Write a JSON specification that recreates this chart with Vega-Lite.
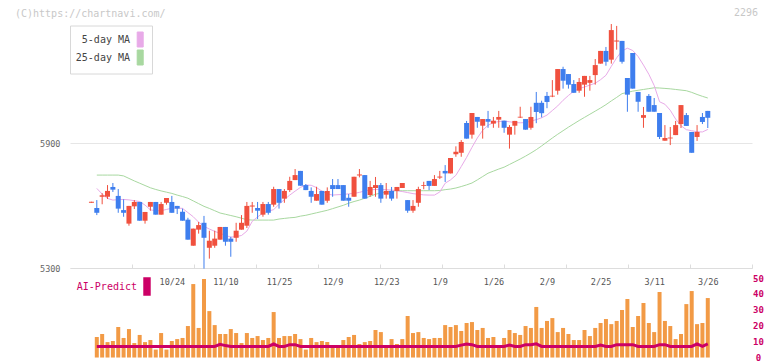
{
  "$schema": "https://vega.github.io/schema/vega-lite/v6.json",
  "width": 682,
  "height": 353,
  "autosize": "none",
  "padding": {"left": 70, "right": 20, "top": 5, "bottom": 3},
  "background": "white",
  "config": {"view": {"stroke": null}, "font": "DejaVu Sans Mono"},
  "title": {"text": "(C)https://chartnavi.com/", "anchor": "start", "frame": "bounds", "dx": 15, "offset": -13.5, "fontSize": 10, "font": "DejaVu Sans Mono", "fontWeight": "normal", "color": "#c8c8c8"},
  "data": {"values": [
    {"i":0,"o":5613,"h":5618,"l":5613,"c":5618},
    {"i":1,"o":5588,"h":5626,"l":5554,"c":5565,"v":12.9,"ai":7,"m5":5682,"m25":5746},
    {"i":2,"o":5642,"h":5659,"l":5606,"c":5649,"v":14.8,"ai":7,"m5":5655,"m25":5746},
    {"i":3,"o":5642,"h":5698,"l":5631,"c":5670,"v":9.7,"ai":7,"m5":5634,"m25":5746},
    {"i":4,"o":5689,"h":5708,"l":5665,"c":5676,"v":10.4,"ai":7,"m5":5626,"m25":5746},
    {"i":5,"o":5646,"h":5679,"l":5565,"c":5585,"v":19.2,"ai":7,"m5":5628,"m25":5746},
    {"i":6,"o":5578,"h":5630,"l":5546,"c":5565,"v":12.3,"ai":7,"m5":5629,"m25":5742},
    {"i":7,"o":5513,"h":5598,"l":5503,"c":5598,"v":17.9,"ai":7,"m5":5627,"m25":5730},
    {"i":8,"o":5596,"h":5626,"l":5583,"c":5617,"v":9.1,"ai":7,"m5":5623,"m25":5718},
    {"i":9,"o":5617,"h":5617,"l":5527,"c":5527,"v":14.2,"ai":7,"m5":5619,"m25":5707},
    {"i":10,"o":5527,"h":5569,"l":5513,"c":5569,"v":9.7,"ai":7,"m5":5602,"m25":5696},
    {"i":11,"o":5594,"h":5617,"l":5575,"c":5617,"v":11,"ai":7,"m5":5579,"m25":5685},
    {"i":12,"o":5617,"h":5617,"l":5556,"c":5556,"v":5,"ai":7,"m5":5575,"m25":5677},
    {"i":13,"o":5556,"h":5617,"l":5556,"c":5607,"v":15.4,"ai":7,"m5":5575,"m25":5670},
    {"i":14,"o":5613,"h":5636,"l":5604,"c":5636,"v":5,"ai":7,"m5":5581,"m25":5664},
    {"i":15,"o":5617,"h":5646,"l":5565,"c":5565,"v":10.4,"ai":7,"m5":5587,"m25":5658},
    {"i":16,"o":5598,"h":5598,"l":5559,"c":5585,"v":11.6,"ai":7,"m5":5588,"m25":5650},
    {"i":17,"o":5570,"h":5585,"l":5527,"c":5527,"v":12.3,"ai":7,"m5":5586,"m25":5643},
    {"i":18,"o":5532,"h":5541,"l":5436,"c":5436,"v":19.8,"ai":7,"m5":5566,"m25":5635},
    {"i":19,"o":5407,"h":5489,"l":5407,"c":5489,"v":46.2,"ai":7,"m5":5546,"m25":5622},
    {"i":20,"o":5484,"h":5521,"l":5465,"c":5506,"v":18.6,"ai":7,"m5":5520,"m25":5609},
    {"i":21,"o":5517,"h":5550,"l":5297,"c":5445,"v":49.4,"ai":7,"m5":5500,"m25":5596},
    {"i":22,"o":5397,"h":5479,"l":5345,"c":5431,"v":29.2,"ai":7,"m5":5487,"m25":5586},
    {"i":23,"o":5407,"h":5479,"l":5397,"c":5441,"v":20.4,"ai":7,"m5":5476,"m25":5575},
    {"i":24,"o":5436,"h":5497,"l":5436,"c":5497,"v":14.8,"ai":8.3,"m5":5466,"m25":5564},
    {"i":25,"o":5497,"h":5497,"l":5407,"c":5426,"v":14.8,"ai":7.5,"m5":5457,"m25":5558},
    {"i":26,"o":5441,"h":5450,"l":5354,"c":5426,"v":17.9,"ai":7,"m5":5448,"m25":5552},
    {"i":27,"o":5445,"h":5517,"l":5426,"c":5479,"v":15.4,"ai":7,"m5":5451,"m25":5546},
    {"i":28,"o":5484,"h":5554,"l":5484,"c":5517,"v":9.1,"ai":7,"m5":5456,"m25":5539},
    {"i":29,"o":5503,"h":5617,"l":5492,"c":5598,"v":15.4,"ai":7,"m5":5477,"m25":5532},
    {"i":30,"o":5595,"h":5617,"l":5565,"c":5600,"v":12.3,"ai":7,"m5":5524,"m25":5530},
    {"i":31,"o":5588,"h":5617,"l":5535,"c":5575,"v":13.5,"ai":7,"m5":5545,"m25":5530},
    {"i":32,"o":5556,"h":5617,"l":5546,"c":5607,"v":11,"ai":7,"m5":5564,"m25":5530},
    {"i":33,"o":5607,"h":5617,"l":5556,"c":5565,"v":12.3,"ai":7,"m5":5573,"m25":5530},
    {"i":34,"o":5604,"h":5690,"l":5594,"c":5679,"v":28.6,"ai":8.5,"m5":5580,"m25":5530},
    {"i":35,"o":5679,"h":5679,"l":5585,"c":5613,"v":12.3,"ai":7,"m5":5606,"m25":5535},
    {"i":36,"o":5633,"h":5679,"l":5613,"c":5670,"v":13.5,"ai":7,"m5":5628,"m25":5538},
    {"i":37,"o":5674,"h":5738,"l":5665,"c":5718,"v":13.5,"ai":8.1,"m5":5650,"m25":5541},
    {"i":38,"o":5722,"h":5775,"l":5722,"c":5746,"v":14.8,"ai":8.1,"m5":5669,"m25":5543},
    {"i":39,"o":5766,"h":5766,"l":5695,"c":5695,"v":11.6,"ai":7,"m5":5687,"m25":5549},
    {"i":40,"o":5698,"h":5703,"l":5674,"c":5674,"v":5,"ai":7,"m5":5698,"m25":5553},
    {"i":41,"o":5670,"h":5687,"l":5613,"c":5642,"v":12.3,"ai":7,"m5":5697,"m25":5559},
    {"i":42,"o":5623,"h":5690,"l":5623,"c":5655,"v":9.7,"ai":7,"m5":5686,"m25":5565},
    {"i":43,"o":5670,"h":5670,"l":5604,"c":5604,"v":10.4,"ai":7,"m5":5669,"m25":5571},
    {"i":44,"o":5623,"h":5687,"l":5613,"c":5670,"v":9.7,"ai":7,"m5":5656,"m25":5577},
    {"i":45,"o":5698,"h":5727,"l":5642,"c":5679,"v":6,"ai":7,"m5":5650,"m25":5585},
    {"i":46,"o":5698,"h":5727,"l":5679,"c":5679,"v":6,"ai":7,"m5":5652,"m25":5593},
    {"i":47,"o":5698,"h":5698,"l":5623,"c":5623,"v":11,"ai":7,"m5":5653,"m25":5601},
    {"i":48,"o":5637,"h":5655,"l":5594,"c":5623,"v":12.9,"ai":7,"m5":5656,"m25":5611},
    {"i":49,"o":5642,"h":5738,"l":5642,"c":5738,"v":14.2,"ai":7,"m5":5658,"m25":5619},
    {"i":50,"o":5744,"h":5775,"l":5735,"c":5749,"v":8.5,"ai":7,"m5":5663,"m25":5626},
    {"i":51,"o":5746,"h":5746,"l":5633,"c":5633,"v":9.7,"ai":7,"m5":5670,"m25":5635},
    {"i":52,"o":5650,"h":5718,"l":5642,"c":5689,"v":10.4,"ai":7,"m5":5675,"m25":5644},
    {"i":53,"o":5684,"h":5737,"l":5642,"c":5698,"v":17.3,"ai":7,"m5":5677,"m25":5654},
    {"i":54,"o":5698,"h":5708,"l":5613,"c":5633,"v":16,"ai":7,"m5":5677,"m25":5660},
    {"i":55,"o":5652,"h":5708,"l":5633,"c":5670,"v":6,"ai":7,"m5":5676,"m25":5664},
    {"i":56,"o":5670,"h":5689,"l":5623,"c":5633,"v":11.6,"ai":7,"m5":5674,"m25":5669},
    {"i":57,"o":5670,"h":5689,"l":5633,"c":5689,"v":8.5,"ai":7,"m5":5671,"m25":5671},
    {"i":58,"o":5684,"h":5708,"l":5684,"c":5708,"v":11.6,"ai":7,"m5":5667,"m25":5671},
    {"i":59,"o":5626,"h":5626,"l":5565,"c":5575,"v":26.1,"ai":7,"m5":5662,"m25":5671},
    {"i":60,"o":5575,"h":5626,"l":5565,"c":5598,"v":15.4,"ai":7,"m5":5657,"m25":5671},
    {"i":61,"o":5613,"h":5690,"l":5594,"c":5679,"v":16,"ai":7,"m5":5654,"m25":5671},
    {"i":62,"o":5694,"h":5714,"l":5678,"c":5698,"v":12.3,"ai":7,"m5":5651,"m25":5671},
    {"i":63,"o":5718,"h":5718,"l":5674,"c":5694,"v":11.6,"ai":7,"m5":5650,"m25":5671},
    {"i":64,"o":5694,"h":5746,"l":5694,"c":5727,"v":12.3,"ai":7,"m5":5650,"m25":5671},
    {"i":65,"o":5734,"h":5766,"l":5727,"c":5739,"v":12.3,"ai":7,"m5":5665,"m25":5672},
    {"i":66,"o":5766,"h":5794,"l":5713,"c":5754,"v":20.4,"ai":7,"m5":5707,"m25":5676},
    {"i":67,"o":5754,"h":5828,"l":5754,"c":5828,"v":19.2,"ai":7,"m5":5723,"m25":5679},
    {"i":68,"o":5846,"h":5884,"l":5834,"c":5858,"v":20.4,"ai":7,"m5":5745,"m25":5684},
    {"i":69,"o":5853,"h":5914,"l":5834,"c":5905,"v":16.7,"ai":7.8,"m5":5787,"m25":5691},
    {"i":70,"o":5996,"h":6006,"l":5921,"c":5921,"v":21.7,"ai":8.5,"m5":5831,"m25":5699},
    {"i":71,"o":5940,"h":6044,"l":5921,"c":6044,"v":22.3,"ai":8.1,"m5":5879,"m25":5708},
    {"i":72,"o":6025,"h":6025,"l":5973,"c":6002,"v":17.3,"ai":7,"m5":5924,"m25":5723},
    {"i":73,"o":5983,"h":6015,"l":5921,"c":6015,"v":18.6,"ai":7,"m5":5961,"m25":5739},
    {"i":74,"o":6015,"h":6054,"l":5973,"c":6002,"v":12.3,"ai":7,"m5":5985,"m25":5755},
    {"i":75,"o":5993,"h":6025,"l":5973,"c":6007,"v":12.9,"ai":7,"m5":5998,"m25":5765},
    {"i":76,"o":6012,"h":6054,"l":5973,"c":6025,"v":6,"ai":7,"m5":6003,"m25":5775},
    {"i":77,"o":6007,"h":6007,"l":5949,"c":5973,"v":12.3,"ai":7,"m5":6005,"m25":5784},
    {"i":78,"o":5940,"h":5986,"l":5873,"c":5977,"v":17.3,"ai":7.8,"m5":6002,"m25":5797},
    {"i":79,"o":5983,"h":6006,"l":5940,"c":6006,"v":15.4,"ai":7,"m5":5998,"m25":5810},
    {"i":80,"o":6022,"h":6074,"l":6020,"c":6026,"v":14.2,"ai":7,"m5":5997,"m25":5823},
    {"i":81,"o":6015,"h":6015,"l":5964,"c":5964,"v":19.8,"ai":8.1,"m5":5998,"m25":5837},
    {"i":82,"o":5973,"h":6074,"l":5964,"c":6025,"v":18.6,"ai":8.1,"m5":6005,"m25":5852},
    {"i":83,"o":6093,"h":6145,"l":5995,"c":6049,"v":31.8,"ai":8.6,"m5":6012,"m25":5868},
    {"i":84,"o":6093,"h":6103,"l":6023,"c":6043,"v":18.6,"ai":7,"m5":6021,"m25":5886},
    {"i":85,"o":6126,"h":6145,"l":6067,"c":6097,"v":23,"ai":7,"m5":6034,"m25":5905},
    {"i":86,"o":6123,"h":6202,"l":6120,"c":6127,"v":24.8,"ai":7,"m5":6056,"m25":5924},
    {"i":87,"o":6151,"h":6255,"l":6132,"c":6255,"v":16,"ai":7,"m5":6078,"m25":5942},
    {"i":88,"o":6255,"h":6266,"l":6161,"c":6199,"v":18.6,"ai":7,"m5":6105,"m25":5959},
    {"i":89,"o":6231,"h":6231,"l":6161,"c":6180,"v":14.8,"ai":7,"m5":6128,"m25":5976},
    {"i":90,"o":6183,"h":6202,"l":6141,"c":6141,"v":11,"ai":7,"m5":6149,"m25":5992},
    {"i":91,"o":6151,"h":6212,"l":6141,"c":6193,"v":11,"ai":7,"m5":6161,"m25":6008},
    {"i":92,"o":6180,"h":6222,"l":6122,"c":6222,"v":17.3,"ai":7,"m5":6169,"m25":6023},
    {"i":93,"o":6189,"h":6222,"l":6151,"c":6202,"v":13.5,"ai":7,"m5":6178,"m25":6038},
    {"i":94,"o":6226,"h":6303,"l":6180,"c":6274,"v":18.6,"ai":7,"m5":6187,"m25":6053},
    {"i":95,"o":6281,"h":6342,"l":6281,"c":6342,"v":21.7,"ai":7.8,"m5":6204,"m25":6068},
    {"i":96,"o":6342,"h":6361,"l":6271,"c":6290,"v":24.2,"ai":7,"m5":6225,"m25":6084},
    {"i":97,"o":6300,"h":6471,"l":6281,"c":6442,"v":21,"ai":7,"m5":6268,"m25":6102},
    {"i":98,"o":6387,"h":6462,"l":6348,"c":6392,"v":23,"ai":8.1,"m5":6309,"m25":6119},
    {"i":99,"o":6390,"h":6390,"l":6281,"c":6290,"v":29.9,"ai":8.1,"m5":6342,"m25":6137},
    {"i":100,"o":6212,"h":6212,"l":6050,"c":6132,"v":36.8,"ai":8.1,"m5":6355,"m25":6143},
    {"i":101,"o":6332,"h":6332,"l":6161,"c":6161,"v":19.2,"ai":8.1,"m5":6344,"m25":6149},
    {"i":102,"o":6145,"h":6145,"l":6050,"c":6098,"v":26.1,"ai":7,"m5":6315,"m25":6153},
    {"i":103,"o":6021,"h":6073,"l":5973,"c":6034,"v":34.3,"ai":7,"m5":6274,"m25":6157},
    {"i":104,"o":6126,"h":6135,"l":6050,"c":6050,"v":21.7,"ai":7,"m5":6230,"m25":6161},
    {"i":105,"o":6082,"h":6116,"l":6050,"c":6050,"v":16,"ai":7,"m5":6176,"m25":6165},
    {"i":106,"o":6044,"h":6044,"l":5919,"c":5929,"v":41.2,"ai":8.1,"m5":6098,"m25":6164},
    {"i":107,"o":5911,"h":5986,"l":5911,"c":5924,"v":23,"ai":8.1,"m5":6086,"m25":6162},
    {"i":108,"o":5922,"h":5977,"l":5890,"c":5926,"v":19.8,"ai":7,"m5":6057,"m25":6160},
    {"i":109,"o":5938,"h":6006,"l":5938,"c":5986,"v":11.6,"ai":7,"m5":6015,"m25":6157},
    {"i":110,"o":5991,"h":6082,"l":5972,"c":6082,"v":14.8,"ai":7,"m5":5983,"m25":6154},
    {"i":111,"o":6034,"h":6044,"l":5982,"c":5982,"v":33.6,"ai":7,"m5":5964,"m25":6151},
    {"i":112,"o":5953,"h":5953,"l":5853,"c":5853,"v":41.8,"ai":7,"m5":5959,"m25":6143},
    {"i":113,"o":5929,"h":5986,"l":5910,"c":5953,"v":21,"ai":8.6,"m5":5954,"m25":6133},
    {"i":114,"o":6025,"h":6044,"l":5991,"c":6001,"v":21.7,"ai":7,"m5":5953,"m25":6124},
    {"i":115,"o":6054,"h":6054,"l":5972,"c":6021,"v":37.4,"ai":8.6,"m5":5965,"m25":6116}
  ]},
  "layer": [
    {
      "layer": [
        {
          "mark": {"type": "line", "strokeWidth": 1},
          "encoding": {
            "x": {"field": "i", "type": "quantitative", "scale": {"domain": [-4, 123.25], "nice": false, "zero": false, "padding": 0},
                  "axis": {"orient": "bottom", "offset": -90, "values": [7.568, 19.136, 30.705, 42.273, 53.841, 65.409, 76.977, 88.545, 100.114, 111.682, 123.25], "labels": false, "title": null, "grid": false, "ticks": true, "tickSize": -4, "tickColor": "#dddddd", "domain": true, "domainColor": "#dddddd"}},
            "y": {"field": "m25", "type": "quantitative", "scale": {"domain": [4868, 6562.4], "nice": false, "zero": false},
                  "axis": {"orient": "left", "values": [5300, 5900], "format": "d", "title": null, "grid": true, "gridColor": "#e6e6e6", "ticks": false, "domain": false, "labelPadding": 10, "labelFontSize": 8.5, "labelColor": "#666666", "labelFont": "DejaVu Sans Mono", "minExtent": 70, "maxExtent": 70}},
            "color": {"datum": "25-day MA", "type": "nominal",
                      "scale": {"domain": ["5-day MA", "25-day MA"], "range": ["#E8AAE8", "#A8D8A0"]},
                      "legend": {"orient": "none", "legendX": 0, "legendY": 20.5, "title": null, "padding": 6, "fillColor": "#ffffff", "strokeColor": "#d8d8d8",
                                 "symbolType": "M-0.4,-1L0.4,-1L0.4,1L-0.4,1Z", "symbolSize": 225, "symbolStrokeWidth": 1,
                                 "symbolOffset": 56.2, "labelOffset": -18.2, "labelAlign": "right", "rowPadding": -4,
                                 "labelFont": "DejaVu Sans Mono", "labelFontSize": 10, "labelColor": "#444444",
                                 "encode": {"symbols": {"update": {"fill": {"scale": "color", "field": "value"}, "stroke": {"value": "#555555"}, "opacity": {"value": 1}}}}}}
          }
        },
        {
          "mark": {"type": "line", "strokeWidth": 1},
          "encoding": {
            "x": {"field": "i", "type": "quantitative"},
            "y": {"field": "m5", "type": "quantitative"},
            "color": {"datum": "5-day MA", "type": "nominal"}
          }
        },
        {
          "mark": {"type": "rule", "strokeWidth": 1},
          "encoding": {
            "x": {"field": "i", "type": "quantitative"},
            "y": {"field": "l", "type": "quantitative"},
            "y2": {"field": "h"},
            "color": {"condition": {"test": "datum.c >= datum.o", "value": "#F0503E"}, "value": "#3E7EEE"}
          }
        },
        {
          "mark": {"type": "bar", "width": 5},
          "encoding": {
            "x": {"field": "i", "type": "quantitative"},
            "y": {"field": "o", "type": "quantitative"},
            "y2": {"field": "c"},
            "color": {"condition": {"test": "datum.c >= datum.o", "value": "#F0503E"}, "value": "#3E7EEE"}
          }
        },
        {
          "data": {"values": [{"t": "2296"}]},
          "mark": {"type": "text", "align": "right", "baseline": "middle", "fontSize": 10, "font": "DejaVu Sans Mono", "color": "#c8c8c8", "dx": 6},
          "encoding": {
            "x": {"datum": 123.25, "type": "quantitative"},
            "y": {"datum": 6526, "type": "quantitative"},
            "text": {"field": "t"}
          }
        }
      ]
    },
    {
      "layer": [
        {
          "mark": {"type": "bar", "width": 4, "color": "#F29A45"},
          "encoding": {
            "x": {"field": "i", "type": "quantitative", "scale": {"domain": [-4, 123.25], "nice": false, "zero": false, "padding": 0},
                  "axis": {"orient": "bottom", "offset": -82, "values": [15, 25, 35, 45, 55, 65, 75, 85, 95, 105, 115],
                           "labelExpr": "{'15':'10/24','25':'11/10','35':'11/25','45':'12/9','55':'12/23','65':'1/9','75':'1/26','85':'2/9','95':'2/25','105':'3/11','115':'3/26'}['' + datum.value]",
                           "ticks": false, "domain": false, "grid": false, "title": null, "labelPadding": 1, "labelFontSize": 8.5, "labelColor": "#555555", "labelFont": "DejaVu Sans Mono", "labelFlush": false, "labelOverlap": false}},
            "y": {"field": "v", "type": "quantitative", "scale": {"domain": [-0.3, 221.7], "nice": false, "zero": false},
                  "axis": {"orient": "right", "values": [0, 10, 20, 30, 40, 50], "title": null, "grid": false, "ticks": false, "domain": false, "labelPadding": 6, "labelAlign": "center", "labelFontSize": 9, "labelFontWeight": "bold", "labelColor": "#CC0066", "labelFont": "DejaVu Sans Mono", "minExtent": 20, "maxExtent": 20}},
            "y2": {"datum": 0}
          }
        },
        {
          "mark": {"type": "line", "strokeWidth": 3},
          "encoding": {
            "x": {"field": "i", "type": "quantitative"},
            "y": {"field": "ai", "type": "quantitative"},
            "stroke": {"datum": "AI-Predict", "type": "nominal", "scale": {"range": ["#CC0066"]},
                       "legend": {"orient": "none", "legendX": 0, "legendY": 272, "title": null, "padding": 0,
                                  "symbolType": "M-0.35,-1L0.35,-1L0.35,1L-0.35,1Z", "symbolSize": 289,
                                  "symbolOffset": 67.5, "labelOffset": -19.5, "labelAlign": "right",
                                  "labelFont": "DejaVu Sans Mono", "labelFontSize": 10, "labelColor": "#CC0066",
                                  "encode": {"symbols": {"update": {"fill": {"value": "#CC0066"}, "stroke": {"value": "transparent"}, "opacity": {"value": 1}}}}}}
          }
        }
      ]
    }
  ],
  "resolve": {"scale": {"y": "independent"}, "axis": {"x": "independent"}}
}
